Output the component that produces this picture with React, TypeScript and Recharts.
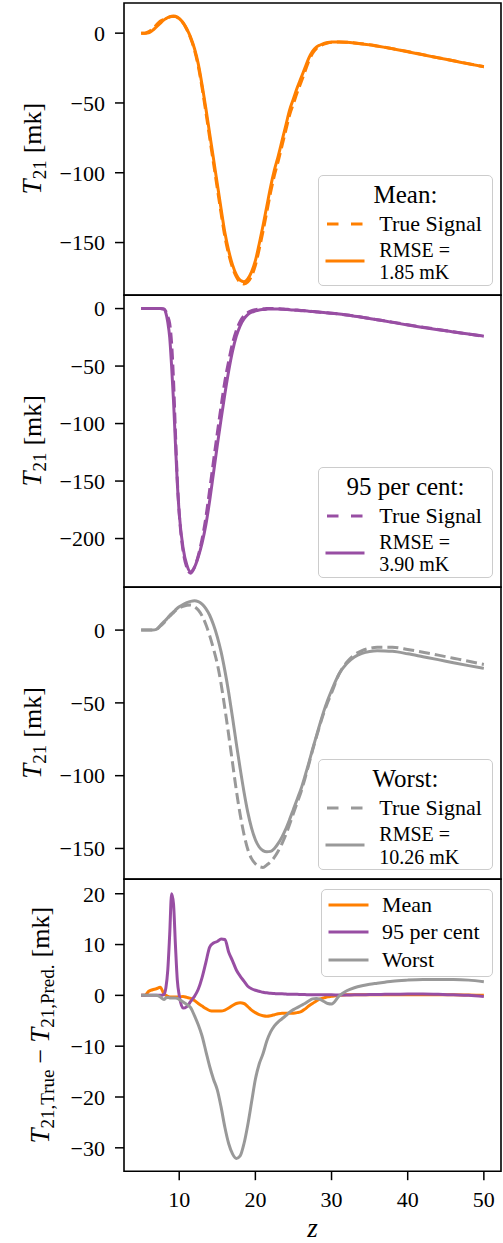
import React from 'react';
import { LineChart, Line, XAxis, YAxis, Legend, ReferenceArea } from 'recharts';

// Redshift grid shared by every curve
const Z = [
  5, 5.5, 6, 6.5, 7, 7.5, 8, 8.25, 8.5, 8.75, 9, 9.25, 9.5, 9.75, 10,
  10.5, 11, 11.5, 12, 12.5, 13, 13.5, 14, 14.5, 15, 15.5, 16, 16.5, 17, 17.5, 18, 18.5, 19, 19.5, 20,
  20.5, 21, 21.5, 22, 22.5, 23, 23.5, 24, 24.5, 25, 25.5, 26, 26.5, 27, 27.5, 28, 28.5, 29, 29.5, 30,
  31, 32, 33, 34, 35, 36, 37, 38,
  40, 42, 44, 46, 48, 50,
];

// Mean case: true signal and emulator prediction [mK]
const MEAN_TRUE = [
  0, 0, 1.1, 3.1, 5.8, 8.6, 9.8, 10.4, 11.0, 11.5, 11.9, 12.0, 11.8, 11.2, 10.2,
  7.3, 2.6, -3.6, -12, -23.6, -39.1, -56.6, -75, -93.1, -111.1, -129.1, -145.9, -158.5, -168, -174.6, -178.45, -179.6, -178.2, -173.9, -166.4,
  -154.8, -142, -128.1, -114, -101.8, -91.6, -80.5, -69.5, -58.5, -50.5, -42.4, -35.2, -27.7, -20.1, -14.6, -11.1, -9.2, -7.8, -7.0, -6.6,
  -6.3, -6.5, -7.0, -7.6, -8.3, -9.2, -10.1, -11.1,
  -13.2, -15.4, -17.6, -19.7, -21.95, -24,
];
const MEAN_PRED = [
  0, 0, 0.3, 2, 4.5, 7, 9.5, 10.4, 11.2, 11.8, 12.2, 12.3, 12.1, 11.5, 10.5,
  7.5, 3, -3, -11, -22, -37, -54, -72, -90, -108, -126, -143, -156, -166, -173, -177, -178, -176, -171, -163,
  -151, -138, -124, -110, -98, -88, -77, -66, -55, -47, -39, -32, -25, -18, -13, -10, -8.5, -7.3, -6.7, -6.4,
  -6.3, -6.6, -7.1, -7.7, -8.4, -9.3, -10.2, -11.2,
  -13.3, -15.5, -17.7, -19.8, -22, -24,
];

// 95th percentile case
const P95_TRUE = [
  0, 0, 0, 0, 0, 0, -0.3, -2.5, -7, -13, -30, -62, -107, -149, -178,
  -210.5, -225.2, -230.2, -225.2, -214.8, -200.5, -181.5, -157.5, -132.7, -108.4, -84.9, -63, -45.5, -30.2, -19, -11.2, -6.2, -3.5, -1.9, -1.0,
  -0.4, -0.2, 0, 0.1, 0.05, -0.1, -0.3, -0.55, -0.8, -1.1, -1.3, -1.65, -1.85, -2.2, -2.5, -2.8, -3.1, -3.4, -3.7, -4.0,
  -4.75, -5.55, -6.5, -7.5, -8.55, -9.65, -10.7, -11.8,
  -14.05, -16.15, -18.2, -20.2, -22.2, -24.2,
];
const P95_PRED = [
  0, 0, 0, 0, 0, 0, -0.5, -4, -12, -25, -50, -80, -117, -152, -178,
  -208, -223, -229, -225, -216, -204, -188, -167, -143, -119, -96, -74, -54, -37, -24, -15, -9, -5.3, -3.2, -2,
  -1.2, -0.8, -0.5, -0.3, -0.3, -0.4, -0.6, -0.8, -1.0, -1.3, -1.5, -1.8, -2.0, -2.3, -2.6, -2.9, -3.2, -3.5, -3.8, -4.1,
  -4.8, -5.6, -6.6, -7.6, -8.7, -9.8, -10.9, -12,
  -14.3, -16.4, -18.4, -20.3, -22.2, -24,
];

// Worst case
const WORST_TRUE = [
  0, 0, 0, 0, 0.5, 2.7, 5.0, 6.5, 8.1, 9.5, 10.8, 12.0, 13.3, 14.4, 15.2,
  16.3, 17.0, 17.3, 16.1, 13.8, 9.8, 3.8, -3.8, -12.9, -23.2, -37, -54, -72.2, -91.2, -110.1, -126.6, -140.2, -150.5, -157, -160.5,
  -162.5, -163, -161.3, -159.2, -156, -151.7, -146.6, -140.5, -133.3, -125.8, -118.4, -111, -102.1, -92.6, -82.7, -73.6, -64.8, -56.7, -49.6, -43.2,
  -30.1, -22.1, -17, -14.1, -12.5, -11.8, -11.7, -11.8,
  -13.3, -15.2, -17.2, -19.3, -21.4, -23.6,
];
const WORST_PRED = [
  0, 0, 0, 0, 0.5, 3, 5.8, 7, 8.5, 10, 11.3, 12.5, 13.8, 15, 16,
  17.6, 18.8, 19.7, 20.1, 19.6, 17.8, 14.8, 10.2, 3.6, -4.6, -15, -28, -43, -60, -78, -95, -111, -125, -136, -144,
  -149, -151.5, -152.3, -152, -150, -146.5, -142, -136.5, -130, -123, -116, -109, -100.5, -91.5, -82, -73, -64, -55.5, -48, -41.5,
  -30, -23, -18.5, -16, -14.7, -14.2, -14.3, -14.6,
  -16.3, -18.3, -20.3, -22.4, -24.4, -26.3,
];

// Residuals T21,True - T21,Pred [mK]
const MEAN_DIFF = [
  0, 0, 0.8, 1.1, 1.3, 1.6, 0.3, 0, -0.2, -0.3, -0.3, -0.3, -0.3, -0.3, -0.3,
  -0.2, -0.4, -0.6, -1.0, -1.6, -2.1, -2.6, -3.0, -3.1, -3.1, -3.1, -2.9, -2.5, -2.0, -1.6, -1.45, -1.6, -2.2, -2.9, -3.4,
  -3.8, -4.0, -4.1, -4.0, -3.8, -3.6, -3.5, -3.5, -3.5, -3.5, -3.4, -3.2, -2.7, -2.1, -1.6, -1.1, -0.7, -0.5, -0.3, -0.2,
  0, 0.1, 0.1, 0.1, 0.1, 0.1, 0.1, 0.1,
  0.1, 0.1, 0.1, 0.1, 0.05, 0,
];
const P95_DIFF = [
  0, 0, 0, 0, 0, 0, 0.2, 1.5, 5, 12, 20, 18, 10, 3, 0,
  -2.5, -2.2, -1.2, -0.2, 1.2, 3.5, 6.5, 9.5, 10.3, 10.6, 11.1, 11.0, 8.5, 6.8, 5, 3.8, 2.8, 1.8, 1.3, 1.0,
  0.8, 0.6, 0.5, 0.4, 0.35, 0.3, 0.3, 0.25, 0.2, 0.2, 0.2, 0.15, 0.15, 0.1, 0.1, 0.1, 0.1, 0.1, 0.1, 0.1,
  0.05, 0.05, 0.1, 0.1, 0.15, 0.15, 0.2, 0.2,
  0.25, 0.25, 0.2, 0.1, 0, -0.2,
];
const WORST_DIFF = [
  0, 0, 0, 0, 0, -0.3, -0.8, -0.5, -0.4, -0.5, -0.5, -0.5, -0.5, -0.6, -0.8,
  -1.3, -1.8, -2.4, -4.0, -5.8, -8.0, -11, -14, -16.5, -18.6, -22, -26, -29.2, -31.2, -32.1, -31.6, -29.2, -25.5, -21, -16.5,
  -13.5, -11.5, -9, -7.2, -6, -5.2, -4.6, -4.0, -3.3, -2.8, -2.4, -2.0, -1.6, -1.1, -0.7, -0.6, -0.8, -1.2, -1.6, -1.7,
  -0.1, 0.9, 1.5, 1.9, 2.2, 2.4, 2.6, 2.8,
  3.0, 3.1, 3.1, 3.1, 3.0, 2.7,
];

const X_TICKS = [10, 20, 30, 40, 50];
const Y_TICKS_MEAN = [0, -50, -100, -150];
const Y_TICKS_P95 = [0, -50, -100, -150, -200];
const Y_TICKS_WORST = [0, -50, -100, -150];
const Y_TICKS_DIFF = [20, 10, 0, -10, -20, -30];

const RMSE_LABELS = ['1.85 mK', '3.90 mK', '10.26 mK'];
const CASE_TITLES = ['Mean:', '95 per cent:', 'Worst:'];
const DIFF_NAMES = ['Mean', '95 per cent', 'Worst'];

const ORANGE = '#ff7f00';
const PURPLE = '#984ea3';
const GRAY = '#999999';

const FONT = '"Liberation Serif", "DejaVu Serif", serif';
const WIDTH = 503;
const PANEL_H = 292.2;
const FIRST_TOP = 2.5;
const PAD = 3;
const X_DOMAIN: [number, number] = [2.75, 52.25];
const DASH = '11 5';
const LW = 3;
const TICK_LINE = { stroke: '#000', strokeWidth: 1.5 };
const TICK_TEXT = { fontFamily: FONT, fontSize: 22, fill: '#000' };

const rows = Z.map((z, i) => ({
  z,
  meanTrue: MEAN_TRUE[i],
  meanPred: MEAN_PRED[i],
  p95True: P95_TRUE[i],
  p95Pred: P95_PRED[i],
  worstTrue: WORST_TRUE[i],
  worstPred: WORST_PRED[i],
  meanDiff: MEAN_DIFF[i],
  p95Diff: P95_DIFF[i],
  worstDiff: WORST_DIFF[i],
}));

const fmt = (v: number) => String(v).replace('-', '\u2212');

function Handle({ color, dashed, width }: { color: string; dashed?: boolean; width: number }) {
  return (
    <svg width={width + 4} height={12} style={{ display: 'block', overflow: 'visible' }}>
      <line
        x1={2}
        x2={width + 2}
        y1={6}
        y2={6}
        stroke={color}
        strokeWidth={LW}
        strokeDasharray={dashed ? '11.5 12.5' : undefined}
        strokeLinecap={dashed ? 'butt' : 'square'}
      />
    </svg>
  );
}

const boxStyle: React.CSSProperties = {
  position: 'relative',
  boxSizing: 'border-box',
  border: '1.5px solid #cccccc',
  borderRadius: 5,
  background: 'rgba(255,255,255,0.8)',
  fontFamily: FONT,
  color: '#000',
};

// Legend text block whose first line is vertically centred on `mid`
function textAt(mid: number, left: number, size: number, lines: string[], center?: boolean, lh = 20) {
  return (
    <div
      style={{
        position: 'absolute',
        top: mid - lh / 2,
        left: center ? 0 : left,
        right: center ? 0 : undefined,
        lineHeight: `${lh}px`,
        fontSize: size,
        whiteSpace: 'nowrap',
        textAlign: center ? 'center' : 'left',
      }}
    >
      {lines.map((l, i) => (
        <React.Fragment key={i}>
          {i > 0 && <br />}
          {l}
        </React.Fragment>
      ))}
    </div>
  );
}

function CaseLegend({ title, color, rmse }: { title: string; color: string; rmse: string }) {
  return (
    <div style={{ ...boxStyle, width: 174.4, height: 111 }}>
      {textAt(19, 0, 25, [title], true)}
      <div style={{ position: 'absolute', left: 5.7, top: 48 - 6 }}>
        <Handle color={color} dashed width={36} />
      </div>
      {textAt(48, 60, 22, ['True Signal'])}
      <div style={{ position: 'absolute', left: 5.7, top: 85.5 - 6 }}>
        <Handle color={color} width={36} />
      </div>
      {textAt(74.5, 60, 20, ['RMSE =', rmse], false, 22.3)}
    </div>
  );
}

function DiffLegend() {
  const colors = [ORANGE, PURPLE, GRAY];
  const ys = [15.7, 42.4, 70];
  return (
    <div style={{ ...boxStyle, width: 171.7, height: 88 }}>
      {DIFF_NAMES.map((n, i) => (
        <React.Fragment key={n}>
          <div style={{ position: 'absolute', left: 5.8, top: ys[i] - 6 }}>
            <Handle color={colors[i]} width={37} />
          </div>
          {textAt(ys[i], 60, 22, [n])}
        </React.Fragment>
      ))}
    </div>
  );
}

type PanelProps = {
  index: number;
  domain: [number, number];
  ticks: number[];
  last?: boolean;
  legend: React.ReactNode;
  legendTop: number;
  legendLeft: number;
  legendW: number;
  legendH: number;
  children: React.ReactNode;
};

function Panel({ index, domain, ticks, last, legend, legendTop, legendLeft, legendW, legendH, children }: PanelProps) {
  const xH = last ? 70 : 0;
  const height = PANEL_H + PAD + (last ? xH : PAD);
  return (
    <div style={{ position: 'absolute', left: 0, top: FIRST_TOP + index * PANEL_H - PAD }}>
      <LineChart
        width={WIDTH}
        height={height}
        data={rows}
        margin={{ top: PAD, right: 2, bottom: last ? 0 : PAD, left: 64 }}
      >
        <XAxis
          xAxisId="b"
          dataKey="z"
          type="number"
          domain={X_DOMAIN}
          allowDataOverflow
          ticks={X_TICKS}
          interval={0}
          height={xH}
          hide={!last}
          tick={TICK_TEXT}
          tickLine={TICK_LINE}
          tickSize={9}
          tickMargin={11}
          axisLine={false}
        />
        <YAxis
          yAxisId="l"
          type="number"
          domain={domain}
          allowDataOverflow
          ticks={ticks}
          interval={0}
          width={60}
          tick={TICK_TEXT}
          tickFormatter={fmt}
          tickLine={TICK_LINE}
          tickSize={9}
          tickMargin={10}
          axisLine={false}
        />
        {/* axes frame around the plotting area */}
        <ReferenceArea
          xAxisId="b"
          yAxisId="l"
          x1={X_DOMAIN[0]}
          x2={X_DOMAIN[1]}
          y1={domain[0]}
          y2={domain[1]}
          fill="none"
          fillOpacity={0}
          stroke="#000"
          strokeWidth={1.6}
          ifOverflow="visible"
        />
        {children}
        <Legend
          layout="vertical"
          align="center"
          verticalAlign="middle"
          wrapperStyle={{ position: 'absolute', left: legendLeft, top: legendTop + PAD, width: legendW, height: legendH }}
          content={() => legend}
        />
      </LineChart>
    </div>
  );
}

function lineProps(key: string, color: string, dashed?: boolean) {
  return {
    xAxisId: 'b',
    yAxisId: 'l',
    dataKey: key,
    type: 'monotone' as const,
    stroke: color,
    strokeWidth: LW,
    strokeDasharray: dashed ? DASH : undefined,
    dot: false,
    activeDot: false,
    isAnimationActive: false,
  };
}

const CASE_LEGEND_TOP = PANEL_H - 9.2 - 111;

export default function App() {
  const panelCenter = (i: number) => FIRST_TOP + i * PANEL_H + PANEL_H / 2;
  return (
    <div style={{ position: 'absolute', left: 0, top: 0, width: WIDTH, height: 1243, background: '#fff' }}>
      <Panel
        index={0}
        domain={[-187.7, 21.6]}
        ticks={Y_TICKS_MEAN}
        legend={<CaseLegend title={CASE_TITLES[0]} color={ORANGE} rmse={RMSE_LABELS[0]} />}
        legendTop={CASE_LEGEND_TOP}
        legendLeft={318.3}
        legendW={174.4}
        legendH={111}
      >
        <Line {...lineProps('meanTrue', ORANGE, true)} name="True Signal" />
        <Line {...lineProps('meanPred', ORANGE)} name="RMSE" />
      </Panel>
      <Panel
        index={1}
        domain={[-242.3, 11.8]}
        ticks={Y_TICKS_P95}
        legend={<CaseLegend title={CASE_TITLES[1]} color={PURPLE} rmse={RMSE_LABELS[1]} />}
        legendTop={CASE_LEGEND_TOP}
        legendLeft={318.3}
        legendW={174.4}
        legendH={111}
      >
        <Line {...lineProps('p95True', PURPLE, true)} name="True Signal" />
        <Line {...lineProps('p95Pred', PURPLE)} name="RMSE" />
      </Panel>
      <Panel
        index={2}
        domain={[-171.1, 29.6]}
        ticks={Y_TICKS_WORST}
        legend={<CaseLegend title={CASE_TITLES[2]} color={GRAY} rmse={RMSE_LABELS[2]} />}
        legendTop={CASE_LEGEND_TOP}
        legendLeft={318.3}
        legendW={174.4}
        legendH={111}
      >
        <Line {...lineProps('worstTrue', GRAY, true)} name="True Signal" />
        <Line {...lineProps('worstPred', GRAY)} name="RMSE" />
      </Panel>
      <Panel
        index={3}
        last
        domain={[-34.6, 22.9]}
        ticks={Y_TICKS_DIFF}
        legend={<DiffLegend />}
        legendTop={9.5}
        legendLeft={321}
        legendW={171.7}
        legendH={88}
      >
        <Line {...lineProps('meanDiff', ORANGE)} name={DIFF_NAMES[0]} />
        <Line {...lineProps('p95Diff', PURPLE)} name={DIFF_NAMES[1]} />
        <Line {...lineProps('worstDiff', GRAY)} name={DIFF_NAMES[2]} />
      </Panel>

      <svg
        width={WIDTH}
        height={1243}
        style={{ position: 'absolute', left: 0, top: 0, pointerEvents: 'none' }}
      >
        {[0, 1, 2].map((i) => (
          <text
            key={i}
            transform={`translate(41,${panelCenter(i)}) rotate(-90)`}
            textAnchor="middle"
            fontFamily={FONT}
            fill="#000"
          >
            <tspan fontStyle="italic" fontSize={27}>T</tspan>
            <tspan fontSize={19} dy={5}>21</tspan>
            <tspan fontSize={26} dy={-5} dx={7}>[mk]</tspan>
          </text>
        ))}
        <text
          transform={`translate(49,${panelCenter(3)}) rotate(-90)`}
          textAnchor="middle"
          fontFamily={FONT}
          fill="#000"
        >
          <tspan fontStyle="italic" fontSize={27}>T</tspan>
          <tspan fontSize={19} dy={5}>21,True</tspan>
          <tspan fontSize={26} dy={-5} dx={6}>{'\u2212'}</tspan>
          <tspan fontStyle="italic" fontSize={27} dx={6}>T</tspan>
          <tspan fontSize={19} dy={5}>21,Pred.</tspan>
          <tspan fontSize={26} dy={-5} dx={7}>[mk]</tspan>
        </text>
        <text x={312.5} y={1237} textAnchor="middle" fontFamily={FONT} fontStyle="italic" fontSize={27} fill="#000">
          z
        </text>
      </svg>
    </div>
  );
}
